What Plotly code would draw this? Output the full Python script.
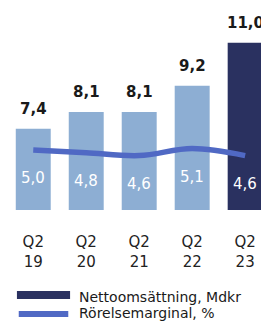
import plotly.graph_objects as go

categories = ["Q2 19", "Q2 20", "Q2 21", "Q2 22", "Q2 23"]
tick_labels = ["Q2<br>19", "Q2<br>20", "Q2<br>21", "Q2<br>22", "Q2<br>23"]
sales = [7.4, 8.1, 8.1, 9.2, 11.0]
margin_pct = [5.0, 4.8, 4.6, 5.1, 4.6]
bar_colors = ["#8DAED3", "#8DAED3", "#8DAED3", "#8DAED3", "#2A3160"]
legend_names = ["Nettoomsättning, Mdkr", "Rörelsemarginal, %"]

FONT = "DejaVu Sans"

fig = go.Figure()
fig.add_trace(go.Bar(
    x=categories, y=sales, marker=dict(color=bar_colors, line=dict(width=0)),
    width=0.66, showlegend=False, hoverinfo="skip"))
fig.add_trace(go.Scatter(
    x=categories, y=margin_pct, yaxis="y2", mode="lines",
    line=dict(color="#5069C4", width=5.5, shape="spline", smoothing=1.0),
    showlegend=False, hoverinfo="skip"))

def fmt(v):
    return f"{v:.1f}".replace(".", ",")

annotations = []
for c, v in zip(categories, sales):
    annotations.append(dict(x=c, y=v, xref="x", yref="y", text=fmt(v),
                            showarrow=False, yanchor="middle", yshift=20,
                            font=dict(family=FONT, size=15, color="#1a1a1a", weight="bold")))
for c, v in zip(categories, margin_pct):
    annotations.append(dict(x=c, y=v, xref="x", yref="y2", text=fmt(v),
                            showarrow=False, yanchor="middle", yshift=-28,
                            font=dict(family=FONT, size=15, color="white")))

# legend drawn manually
annotations.append(dict(x=0.256, y=-0.431, xref="paper", yref="paper", text=legend_names[0],
                        showarrow=False, xanchor="left", yanchor="middle",
                        font=dict(family=FONT, size=14, color="#1a1a1a")))
annotations.append(dict(x=0.256, y=-0.508, xref="paper", yref="paper", text=legend_names[1],
                        showarrow=False, xanchor="left", yanchor="middle",
                        font=dict(family=FONT, size=14, color="#1a1a1a")))

shapes = [
    dict(type="rect", xref="paper", yref="paper", x0=0.023, x1=0.229, y0=-0.401, y1=-0.441,
         fillcolor="#2A3160", line=dict(width=0)),
    dict(type="line", xref="paper", yref="paper", x0=0.03, x1=0.222, y0=-0.515, y1=-0.515,
         line=dict(color="#5069C4", width=6)),
]

fig.update_layout(
    width=261, height=317,
    margin=dict(l=3, r=0, t=0, b=115, autoexpand=False),
    paper_bgcolor="white", plot_bgcolor="white",
    xaxis=dict(type="category", range=[-0.42, 4.45], tickvals=categories, ticktext=tick_labels,
               showgrid=False, zeroline=False, showline=False, ticks="",
               ticklabelstandoff=21, automargin=False,
               tickfont=dict(family=FONT, size=15, color="#222222")),
    yaxis=dict(range=[4.0, 12.45], visible=False, showgrid=False, automargin=False),
    yaxis2=dict(range=[0.714, 15.14], overlaying="y", visible=False, showgrid=False, automargin=False),
    annotations=annotations, shapes=shapes,
    showlegend=False,
)

fig.write_html("out.html")
